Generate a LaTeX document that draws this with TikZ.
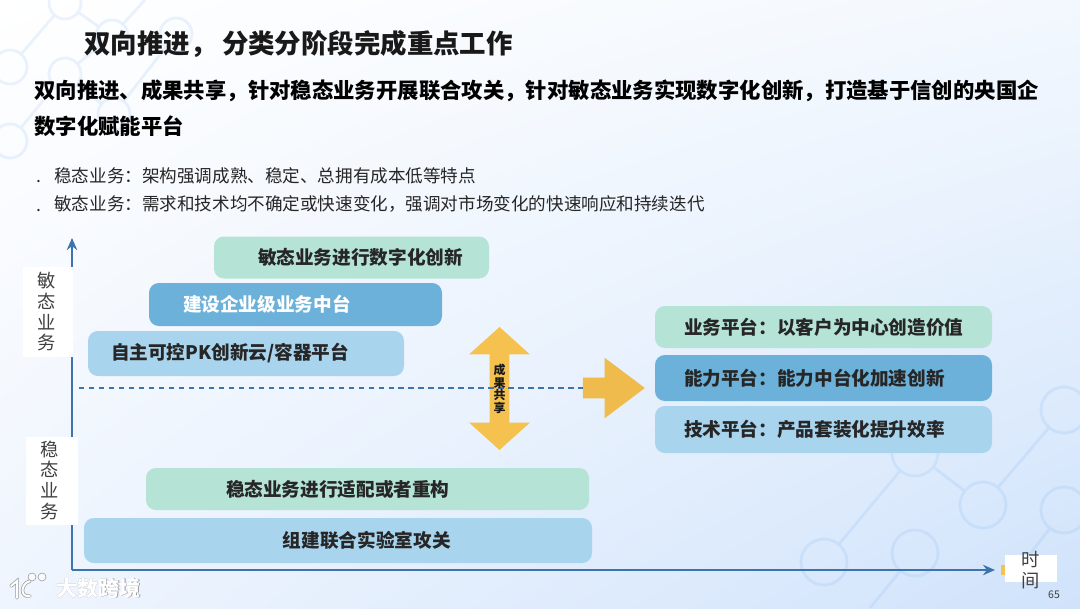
\documentclass[tikz,border=0pt]{standalone}
\usepackage{fontspec}
\setmainfont{Noto Sans CJK SC}
\usetikzlibrary{arrows.meta, shapes.arrows, shadings}

\definecolor{barGreen}{HTML}{B5E3D5}
\definecolor{barBlue}{HTML}{6BB1DA}
\definecolor{barLight}{HTML}{A8D4EE}
\definecolor{axisBlue}{HTML}{3E74AD}
\definecolor{arrowYellow}{HTML}{F5C24F}
\definecolor{netBlue}{HTML}{3B8FE8}
\definecolor{bgTR}{HTML}{F3F8FE}
\definecolor{bgBL}{HTML}{EFF5FE}
\definecolor{bgBR}{HTML}{D0E3FB}

\tikzset{
  bar/.style n args={3}{rounded corners=7pt, inner sep=0pt, align=left,
    minimum width=#1*0.025cm, minimum height=#2*0.025cm, text width=#1*0.025cm,
    font=\fontsize{13.25}{16}\selectfont\bfseries, text=black!85,
    execute at begin node={\hspace*{#3\dimexpr 0.025cm\relax}}},
  netdot/.style={circle, draw=netBlue, draw opacity=0.1, line width=2pt, minimum size=#1*0.025cm, inner sep=0pt},
  netline/.style={draw=netBlue, draw opacity=0.1, line width=2pt},
  sidelabel/.style={align=center, inner sep=0pt, text=black!75, font=\fontsize{13}{14.7}\selectfont},
  whitebox/.style={fill=white, inner sep=0pt},
  axisline/.style={line width=1.5pt, axisBlue},
  bodytext/.style={anchor=west, inner sep=0pt, text=black!85, font=\fontsize{12.5}{14}\selectfont}
}

\begin{document}
\begin{tikzpicture}[x=0.025cm, y=-0.025cm]
  \useasboundingbox (0,0) rectangle (1080,608);
  \shade[upper left=white, upper right=bgTR, lower left=bgBL, lower right=bgBR] (0,0) rectangle (1080,608);

  % Background network
  \node[netdot=32] (n1) at (65,3) {};
  \node[netdot=34] (n2) at (10,67) {};
  \node[netdot=32] (n3) at (65,74) {};
  \node[netdot=32] (n4) at (112,36) {};
  \node[netdot=32] (n5) at (176,34) {};
  \node[netdot=34] (n6) at (10,141) {};
  \node[netdot=32] (n7) at (114,114) {};
  \draw[netline] (n2) -- (n1) -- (n4) -- (145,0);
  \draw[netline] (n6) -- (n3) -- (n7);
  \draw[netline] (n3) -- (n4);
  \draw[netline] (n7) -- (n5);
  \node[netdot=46] (m1) at (1064,410) {};
  \node[netdot=46] (m2) at (915,453) {};
  \node[netdot=46] (m3) at (983,505) {};
  \node[netdot=46] (m4) at (824,562) {};
  \node[netdot=46] (m5) at (915,553) {};
  \node[netdot=46] (m6) at (1064,510) {};
  \draw[netline] (m4) -- (m2) -- (m3) -- (m1);
  \draw[netline] (m5) -- (870,608);
  \draw[netline] (m6) -- (1010,580);

  % Heading
  \node[anchor=west, inner sep=0pt, text=black!90, font=\fontsize{18.8}{23}\selectfont\bfseries] (title) at (84,44) {双向推进，\hspace{4pt}分类分阶段完成重点工作};
  \node[anchor=west, inner sep=0pt, text=black, font=\fontsize{15.2}{18}\selectfont\bfseries] (sub1) at (34,91) {双向推进、成果共享，针对稳态业务开展联合攻关，针对敏态业务实现数字化创新，打造基于信创的央国企};
  \node[anchor=west, inner sep=0pt, text=black, font=\fontsize{15.2}{18}\selectfont\bfseries] (sub2) at (34,126) {数字化赋能平台};
  \node[bodytext] (dot1) at (36,181.5) {.};
  \node[bodytext] (item1) at (54,176) {稳态业务：架构强调成熟、稳定、总拥有成本低等特点};
  \node[bodytext] (dot2) at (36,210) {.};
  \node[bodytext] (item2) at (54,204) {敏态业务：需求和技术均不确定或快速变化，强调对市场变化的快速响应和持续迭代};

  % Axes
  \coordinate (origin) at (72,570);
  \coordinate (ytip) at (72,238);
  \coordinate (xtip) at (995,570);
  \draw[axisline, -{Stealth[length=3mm, width=2.6mm]}] (origin) -- (ytip);
  \draw[axisline, -{Stealth[length=3mm, width=2.6mm]}] (origin) -- (xtip);
  \node[whitebox, minimum width=1.25cm, minimum height=2.25cm] (fastbox) at (48,312) {};
  \node[sidelabel] (fast) at (47,312) {敏\\态\\业\\务};
  \node[whitebox, minimum width=1.3cm, minimum height=2.2cm] (slowbox) at (52,481) {};
  \node[sidelabel] (slow) at (50,480) {稳\\态\\业\\务};
  \fill[arrowYellow] (1001,565) rectangle (1005,575);
  \node[whitebox, minimum width=1.3cm, minimum height=0.68cm] (timebox) at (1031,568.5) {};
  \node[sidelabel] (time) at (1031,570) {时\\间};

  % Left bars
  \node[bar={275}{42}{44}, fill=barGreen] (digital) at (351.5,257.5) {敏态业务进行数字化创新};
  \node[bar={293}{43}{34}, fill=barBlue, text=white] (midend) at (295.5,304.5) {建设企业级业务中台};
  \node[bar={316}{45}{23}, fill=barLight] (cloud) at (246,353.5) {自主可控PK创新云/容器平台};
  \node[bar={443}{42}{80}, fill=barGreen] (adapt) at (367.5,489) {稳态业务进行适配或者重构};
  \node[bar={508}{45}{199}, fill=barLight] (lab) at (338,540.5) {组建联合实验室攻关};

  % Right bars
  \node[bar={337}{42}{29}, fill=barGreen] (bizplat) at (823.5,327) {业务平台：以客户为中心创造价值};
  \node[bar={337}{46}{29}, fill=barBlue] (abiplat) at (823.5,378) {能力平台：能力中台化加速创新};
  \node[bar={337}{47}{29}, fill=barLight] (techplat) at (823.5,429.5) {技术平台：产品套装化提升效率};

  % Shared results
  \node[double arrow, fill=arrowYellow, inner xsep=0pt, inner ysep=0.24cm, rotate=90, minimum height=123*0.025cm, minimum width=60*0.025cm,
    double arrow head extend=20.5*0.025cm, double arrow tip angle=96, double arrow head indent=0pt] (share) at (499.5,388.5) {};
  \node[single arrow, fill=arrowYellow!90!brown, inner xsep=0pt, inner ysep=0.25cm, minimum height=62*0.025cm, minimum width=60*0.025cm,
    single arrow head extend=20*0.025cm, single arrow tip angle=74, single arrow head indent=0pt] (toplat) at (607,388) {};
  \coordinate (dashstart) at (79,388);
  \draw[line width=1.5pt, axisBlue, dash pattern=on 3.8pt off 3.3pt] (dashstart) -- (toplat.west);
  \node[align=center, inner sep=0pt, text=black!90, font=\fontsize{8.5}{8.9}\selectfont\bfseries] (sharetext) at (499.5,389) {成\\果\\共\\享};

  % Logo and page number
  \node[anchor=west, inner sep=0pt, text=black!40, font=\fontsize{15}{18}\selectfont\bfseries] (markshadow) at (56.6,588.6) {大数跨境};
  \node[anchor=west, inner sep=0pt, text=white, font=\fontsize{15}{18}\selectfont\bfseries] (mark) at (56,588) {大数跨境};
  \draw[black!40, line width=2.4pt, line cap=round] (11,586) -- (17,581) -- (17,598);
  \draw[black!40, line width=2.4pt, line cap=round] (30,581) .. controls (20,584) and (20,598) .. (30,596);
  \draw[white, line width=1.4pt, line cap=round] (11,586) -- (17,581) -- (17,598);
  \draw[white, line width=1.4pt, line cap=round] (30,581) .. controls (20,584) and (20,598) .. (30,596);
  \node[circle, draw=black!40, fill=white, fill opacity=0.6, minimum size=0.2cm, inner sep=0pt] (loopa) at (32,577) {};
  \node[circle, draw=black!40, fill=white, fill opacity=0.6, minimum size=0.2cm, inner sep=0pt] (loopb) at (42,577) {};
  \node[inner sep=0pt, text=black!75, font=\fontsize{7.5}{9}\selectfont] (pageno) at (1054,595) {65};
\end{tikzpicture}
\end{document}
